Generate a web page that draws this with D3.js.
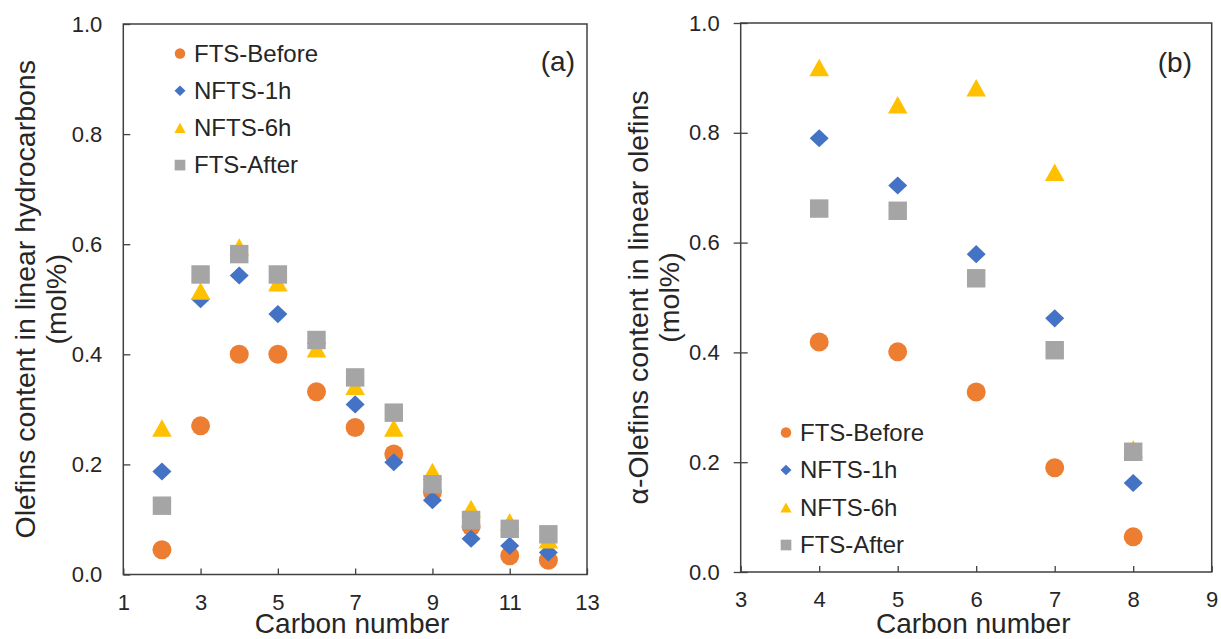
<!DOCTYPE html>
<html>
<head>
<meta charset="utf-8">
<script src="https://cdn.jsdelivr.net/npm/d3@7/dist/d3.min.js"></script>
<style>
  html, body { margin: 0; padding: 0; background: #ffffff; }
  svg { display: block; }
  text { font-family: "Liberation Sans", Arial, sans-serif; fill: #262626; }
</style>
</head>
<body>
<svg id="chart" width="1221" height="639"></svg>
<script>
// ---------------- data ----------------
const seriesNames = ["FTS-Before", "NFTS-1h", "NFTS-6h", "FTS-After"];
const seriesColors = ["#ED7D31", "#4472C4", "#FFC000", "#A5A5A5"];
const seriesShapes = ["circle", "diamond", "triangle", "square"];

// panel (a)
const carbonA = [2, 3, 4, 5, 6, 7, 8, 9, 10, 11, 12];
const aBefore = [0.045, 0.270, 0.400, 0.400, 0.332, 0.267, 0.219, 0.150, 0.087, 0.034, 0.026];
const a1h     = [0.187, 0.500, 0.543, 0.473, 0.420, 0.309, 0.204, 0.135, 0.065, 0.052, 0.040];
const a6h     = [0.266, 0.515, 0.595, 0.530, 0.410, 0.342, 0.266, 0.187, 0.120, 0.096, 0.063];
const aAfter  = [0.125, 0.545, 0.582, 0.545, 0.426, 0.358, 0.294, 0.164, 0.099, 0.083, 0.073];

// panel (b)
const carbonB = [4, 5, 6, 7, 8];
const bBefore = [0.419, 0.401, 0.328, 0.190, 0.064];
const b1h     = [0.790, 0.704, 0.579, 0.462, 0.162];
const b6h     = [0.919, 0.851, 0.882, 0.728, 0.224];
const bAfter  = [0.662, 0.658, 0.535, 0.404, 0.219];

const xTicksA = [1, 3, 5, 7, 9, 11, 13];
const xTicksB = [3, 4, 5, 6, 7, 8, 9];
const yTicks = [0, 0.2, 0.4, 0.6, 0.8, 1.0];

const yTitleA = ["Olefins content in linear hydrocarbons", "(mol%)"];
const yTitleB = ["\u03B1-Olefins content in linear olefins", "(mol%)"];
const xTitle = "Carbon number";

// ---------------- helpers ----------------
const svg = d3.select("#chart");

function markerPath(shape, s) {
  const h = s / 2;
  if (shape === "circle") {
    const p = d3.path(); p.arc(0, 0, h, 0, 2 * Math.PI); return p.toString();
  }
  if (shape === "diamond") {
    const hy = h * 0.95;
    return `M0,${-hy}L${h},0L0,${hy}L${-h},0Z`;
  }
  if (shape === "triangle") {
    const hy = h * 0.92;
    return `M0,${-hy}L${h * 1.03},${hy}L${-h * 1.03},${hy}Z`;
  }
  if (shape === "square") {
    const q = h * 0.97;
    return `M${-q},${-q}H${q}V${q}H${-q}Z`;
  }
}

function drawPanel(cfg) {
  const g = svg.append("g");
  const x = d3.scaleLinear().domain(cfg.xDomain).range([cfg.left, cfg.right]);
  const y = d3.scaleLinear().domain([0, 1]).range([cfg.bottom, cfg.top]);

  // x axis
  const xa = g.append("g").attr("transform", `translate(0,${cfg.bottom})`)
    .call(d3.axisBottom(x).tickValues(cfg.xTicks).tickFormat(d3.format("d"))
      .tickSizeInner(-6).tickSizeOuter(0).tickPadding(cfg.xPad));
  xa.select(".domain").remove();
  xa.selectAll("line").attr("stroke", "#404040").attr("stroke-width", 1.3);
  xa.selectAll("text").attr("font-size", 22).attr("fill", "#262626")
    .attr("font-family", "'Liberation Sans', Arial, sans-serif");

  // y axis
  const ya = g.append("g").attr("transform", `translate(${cfg.left},0)`)
    .call(d3.axisLeft(y).tickValues(yTicks).tickFormat(d3.format(".1f"))
      .tickSizeInner(-7).tickSizeOuter(0).tickPadding(21));
  ya.select(".domain").remove();
  ya.selectAll("line").attr("stroke", "#404040").attr("stroke-width", 1.3);
  if (cfg.crossY) ya.selectAll("line").attr("x1", -7);
  ya.selectAll("text").attr("font-size", 22).attr("fill", "#262626")
    .attr("font-family", "'Liberation Sans', Arial, sans-serif");

  // frame
  g.append("rect")
    .attr("x", cfg.left).attr("y", cfg.top)
    .attr("width", cfg.right - cfg.left).attr("height", cfg.bottom - cfg.top)
    .attr("fill", "none").attr("stroke", "#404040").attr("stroke-width", 1.5);

  // points
  cfg.series.forEach((vals, i) => {
    g.append("g").selectAll("path")
      .data(cfg.carbon.map((c, j) => ({ c, v: vals[j] })))
      .join("path")
      .attr("d", markerPath(seriesShapes[i], 19))
      .attr("transform", d => `translate(${x(d.c)},${y(d.v)})`)
      .attr("fill", seriesColors[i]);
  });

  // axis titles
  g.append("text")
    .attr("x", (cfg.left + cfg.right) / 2 - 3).attr("y", cfg.xTitleY)
    .attr("text-anchor", "middle").attr("font-size", 28).text(xTitle);

  const yt = g.append("text")
    .attr("transform", `translate(0,${(cfg.top + cfg.bottom) / 2}) rotate(-90)`)
    .attr("text-anchor", "middle").attr("font-size", 28.5);
  yt.append("tspan").attr("x", 0).attr("y", cfg.yTitleX[0]).text(cfg.yTitle[0]);
  yt.append("tspan").attr("x", 0).attr("y", cfg.yTitleX[1]).text(cfg.yTitle[1]);

  // panel label
  g.append("text").attr("x", cfg.labelX).attr("y", cfg.labelY)
    .attr("text-anchor", "end").attr("font-size", 28).text(cfg.label);

  // legend
  const lg = g.append("g");
  seriesNames.forEach((name, i) => {
    const cy = cfg.legendY + i * cfg.legendStep;
    lg.append("path")
      .attr("d", markerPath(seriesShapes[i], seriesShapes[i] === "circle" ? 10.5 : 11))
      .attr("transform", `translate(${cfg.legendX},${cy})`)
      .attr("fill", seriesColors[i]);
    lg.append("text").attr("x", cfg.legendX + 14).attr("y", cy + 8.3)
      .attr("font-size", 24).text(name);
  });
}

drawPanel({
  left: 123.3, right: 587, top: 24, bottom: 574.5,
  xDomain: [1, 13], xTicks: xTicksA, xPad: 20,
  carbon: carbonA, series: [aBefore, a1h, a6h, aAfter],
  xTitleY: 632.5, yTitle: yTitleA, yTitleX: [35, 66],
  label: "(a)", labelX: 575, labelY: 71,
  legendX: 180, legendY: 53.5, legendStep: 37.2,
  crossY: false
});

drawPanel({
  left: 740.7, right: 1211.7, top: 23, bottom: 572,
  xDomain: [3, 9], xTicks: xTicksB, xPad: 19,
  carbon: carbonB, series: [bBefore, b1h, b6h, bAfter],
  xTitleY: 632.5, yTitle: yTitleB, yTitleX: [648, 679],
  label: "(b)", labelX: 1192, labelY: 72,
  legendX: 786, legendY: 432.5, legendStep: 37.5,
  crossY: true
});
</script>
</body>
</html>
